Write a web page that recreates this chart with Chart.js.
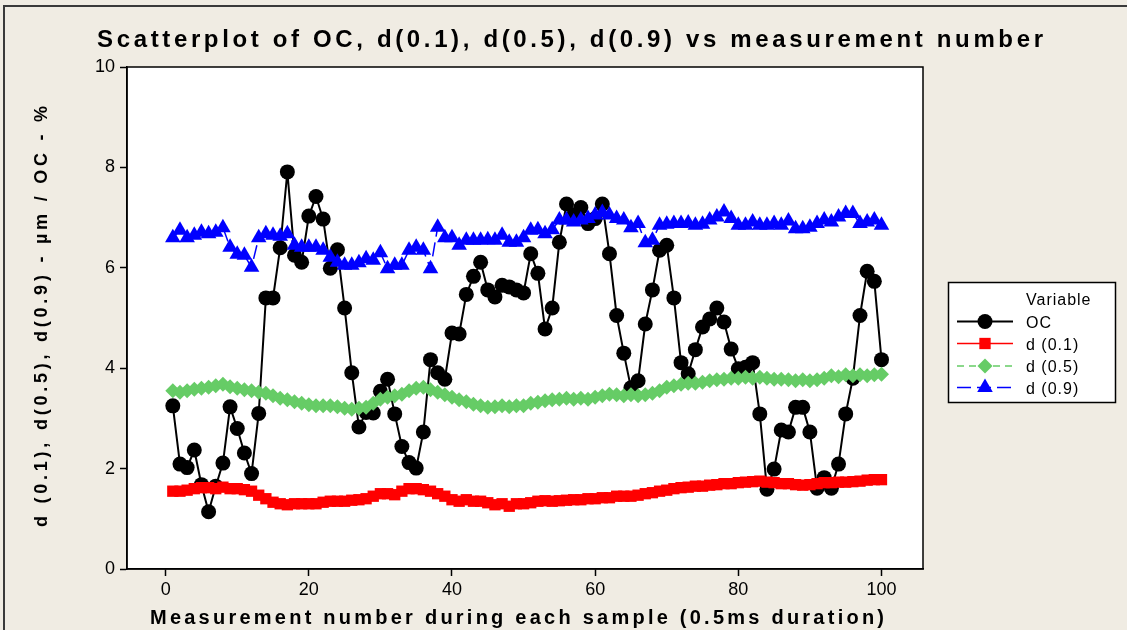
<!DOCTYPE html>
<html>
<head>
<meta charset="utf-8">
<script src="https://cdn.jsdelivr.net/npm/chart.js"></script>
<style>
  html, body { margin: 0; padding: 0; background: #F0ECE3; }
  canvas { display: block; }
</style>
</head>
<body>
<canvas id="grafica" width="1127" height="630"></canvas>
<script>
// measurement number 1..100
const medicion = Array.from({ length: 100 }, (_, i) => i + 1);

const serieOC = [
  3.25, 2.09, 2.02, 2.37, 1.68, 1.14, 1.65, 2.11, 3.23, 2.80,
  2.31, 1.90, 3.10, 5.40, 5.40, 6.40, 7.91, 6.25, 6.11, 7.03,
  7.42, 6.97, 5.99, 6.36, 5.20, 3.91, 2.83, 3.12, 3.11, 3.54,
  3.78, 3.09, 2.44, 2.12, 2.01, 2.73, 4.17, 3.91, 3.78, 4.70,
  4.68, 5.47, 5.83, 6.11, 5.56, 5.42, 5.65, 5.62, 5.56, 5.50,
  6.28, 5.89, 4.78, 5.20, 6.51, 7.27, 7.05, 7.20, 6.88, 6.98,
  7.27, 6.28, 5.05, 4.30, 3.61, 3.75, 4.88, 5.56, 6.35, 6.45,
  5.40, 4.11, 3.89, 4.37, 4.82, 4.98, 5.20, 4.92, 4.38, 3.99,
  4.02, 4.11, 3.09, 1.59, 1.99, 2.77, 2.73, 3.22, 3.22, 2.73,
  1.61, 1.82, 1.61, 2.09, 3.09, 3.80, 5.05, 5.93, 5.73, 4.17
];

const serieD01 = [
  1.55, 1.55, 1.57, 1.60, 1.62, 1.62, 1.60, 1.63, 1.60, 1.60,
  1.58, 1.55, 1.47, 1.40, 1.33, 1.30, 1.28, 1.30, 1.30, 1.30,
  1.30, 1.33, 1.35, 1.35, 1.35, 1.37, 1.38, 1.40, 1.45, 1.50,
  1.50, 1.48, 1.55, 1.60, 1.60, 1.58, 1.55, 1.50, 1.45, 1.38,
  1.35, 1.38, 1.35, 1.35, 1.32, 1.28, 1.30, 1.25, 1.30, 1.30,
  1.32, 1.35, 1.36, 1.35, 1.36, 1.37, 1.38, 1.38, 1.40, 1.40,
  1.42, 1.42, 1.45, 1.45, 1.45, 1.47, 1.50, 1.52, 1.55, 1.57,
  1.60, 1.62, 1.63, 1.65, 1.65, 1.67, 1.68, 1.70, 1.70, 1.72,
  1.73, 1.74, 1.75, 1.73, 1.72, 1.70, 1.70, 1.68, 1.67, 1.68,
  1.70, 1.72, 1.72, 1.73, 1.73, 1.74, 1.75, 1.77, 1.78, 1.78
];

const serieD05 = [
  3.55, 3.52, 3.55, 3.58, 3.60, 3.62, 3.65, 3.68, 3.63, 3.60,
  3.57, 3.55, 3.52, 3.50, 3.45, 3.40, 3.37, 3.33, 3.30, 3.27,
  3.25, 3.25, 3.25, 3.23, 3.20, 3.18, 3.20, 3.22, 3.30, 3.38,
  3.42, 3.45, 3.48, 3.55, 3.60, 3.62, 3.57, 3.52, 3.47, 3.42,
  3.37, 3.33, 3.28, 3.25, 3.22, 3.23, 3.25, 3.23, 3.25, 3.25,
  3.30, 3.32, 3.35, 3.37, 3.38, 3.40, 3.38, 3.40, 3.38, 3.42,
  3.45, 3.48, 3.47, 3.45, 3.47, 3.45, 3.47, 3.50, 3.55, 3.62,
  3.65, 3.68, 3.70, 3.70, 3.72, 3.75, 3.77, 3.78, 3.80, 3.80,
  3.82, 3.80, 3.82, 3.80, 3.78, 3.78, 3.77, 3.75, 3.77, 3.75,
  3.77, 3.80, 3.85, 3.83, 3.87, 3.85, 3.87, 3.85, 3.87, 3.88
];

const serieD09 = [
  6.60, 6.75, 6.60, 6.65, 6.71, 6.68, 6.71, 6.80, 6.41, 6.27,
  6.25, 6.01, 6.60, 6.68, 6.65, 6.63, 6.68, 6.45, 6.41, 6.41,
  6.41, 6.35, 6.21, 6.11, 6.05, 6.05, 6.10, 6.18, 6.15, 6.30,
  5.98, 6.05, 6.05, 6.35, 6.41, 6.35, 5.98, 6.81, 6.60, 6.60,
  6.45, 6.55, 6.55, 6.55, 6.56, 6.55, 6.65, 6.51, 6.51, 6.60,
  6.75, 6.76, 6.68, 6.76, 6.95, 6.95, 6.91, 6.95, 6.98, 7.05,
  7.10, 7.05, 6.98, 6.95, 6.80, 6.88, 6.50, 6.55, 6.85, 6.87,
  6.88, 6.88, 6.89, 6.85, 6.87, 6.95, 7.01, 7.11, 6.98, 6.85,
  6.85, 6.91, 6.85, 6.85, 6.88, 6.85, 6.93, 6.78, 6.78, 6.81,
  6.88, 6.95, 6.91, 7.01, 7.08, 7.08, 6.88, 6.91, 6.95, 6.85
];

const ticksX = [0, 20, 40, 60, 80, 100];
const ticksY = [0, 2, 4, 6, 8, 10];

const titulo = 'Scatterplot of OC, d(0.1), d(0.5), d(0.9) vs measurement number';
const tituloX = 'Measurement number during each sample (0.5ms duration)';
const tituloY = 'd (0.1), d(0.5), d(0.9) - \u00B5m / OC - %';
const etiquetasLeyenda = ['OC', 'd (0.1)', 'd (0.5)', 'd (0.9)'];

const FUENTE = "'Liberation Sans', Arial, sans-serif";

function puntos(valores) {
    return valores.map((v, i) => ({ x: medicion[i], y: v }));
}

// texto con espaciado de letras para ocupar un ancho dado
function textoEspaciado(ctx, texto, x, y, ancho, font) {
    ctx.font = font;
    ctx.letterSpacing = '0px';
    const w = ctx.measureText(texto).width;
    const sp = Math.max(0, (ancho - w) / (texto.length - 1));
    ctx.letterSpacing = sp + 'px';
    ctx.textAlign = 'left';
    ctx.fillText(texto, x, y);
    ctx.letterSpacing = '0px';
}

const pluginMarco = {
    id: 'marco',
    beforeDraw(chart) {
        const ctx = chart.ctx;
        const a = chart.chartArea;
        ctx.save();
        ctx.fillStyle = '#F0ECE3';
        ctx.fillRect(0, 0, chart.width, chart.height);
        ctx.fillStyle = '#fff';
        ctx.fillRect(a.left, a.top, a.right - a.left, a.bottom - a.top);
        // borde exterior
        ctx.strokeStyle = '#3a3a3a';
        ctx.lineWidth = 2;
        ctx.beginPath();
        ctx.moveTo(4, chart.height);
        ctx.lineTo(4, 6);
        ctx.lineTo(chart.width, 6);
        ctx.stroke();
        ctx.restore();
    },
    afterDraw(chart) {
        const ctx = chart.ctx;
        const a = chart.chartArea;
        ctx.save();
        ctx.strokeStyle = '#000';
        ctx.lineWidth = 1.5;
        ctx.strokeRect(a.left, a.top, a.right - a.left, a.bottom - a.top);

        ctx.fillStyle = '#000';
        ctx.textBaseline = 'alphabetic';
        textoEspaciado(ctx, titulo, 97, 47, 946, 'bold 24px ' + FUENTE);
        textoEspaciado(ctx, tituloX, 150, 624, 734, 'bold 20px ' + FUENTE);

        ctx.save();
        ctx.translate(47, 527);
        ctx.rotate(-Math.PI / 2);
        textoEspaciado(ctx, tituloY, 0, 0, 421, 'bold 18px ' + FUENTE);
        ctx.restore();

        // leyenda
        ctx.fillStyle = '#fff';
        ctx.fillRect(948.5, 282.5, 167, 120);
        ctx.strokeStyle = '#000';
        ctx.lineWidth = 1.5;
        ctx.strokeRect(948.5, 282.5, 167, 120);

        ctx.fillStyle = '#000';
        ctx.font = '16px ' + FUENTE;
        ctx.letterSpacing = '1px';
        ctx.textAlign = 'left';
        ctx.fillText('Variable', 1026, 305);

        const filas = [321.5, 343.5, 366, 387.5];
        [0, 1, 2, 3].forEach(i => {
            const ds = chart.data.datasets[i];
            const y = filas[i];
            ctx.strokeStyle = ds.borderColor;
            ctx.lineWidth = ds.borderWidth;
            ctx.setLineDash(ds.borderDash || []);
            ctx.beginPath();
            ctx.moveTo(957, y);
            ctx.lineTo(1013, y);
            ctx.stroke();
            ctx.setLineDash([]);
            ctx.fillStyle = ds.backgroundColor;
            Chart.helpers.drawPoint(ctx, {
                pointStyle: ds.pointStyle,
                radius: ds.pointRadius,
                rotation: 0,
                borderWidth: 0
            }, 985, y);
            ctx.fillStyle = '#000';
            ctx.letterSpacing = '1px';
            ctx.fillText(etiquetasLeyenda[i], 1026, y + 6);
        });
        ctx.letterSpacing = '0px';
        ctx.restore();
    }
};

document.addEventListener('DOMContentLoaded', () => {
    const ctx = document.getElementById('grafica').getContext('2d');
    new Chart(ctx, {
        type: 'scatter',
        data: {
            datasets: [
                {
                    label: 'OC',
                    data: puntos(serieOC),
                    showLine: true,
                    borderColor: '#000000',
                    backgroundColor: '#000000',
                    borderWidth: 2,
                    pointStyle: 'circle',
                    pointRadius: 7.5,
                    pointBorderWidth: 0,
                    order: 4
                },
                {
                    label: 'd(0.1)',
                    data: puntos(serieD01),
                    showLine: true,
                    borderColor: '#FF0000',
                    backgroundColor: '#FF0000',
                    borderWidth: 1.5,
                    pointStyle: 'rect',
                    pointRadius: 8,
                    pointBorderWidth: 0,
                    order: 3
                },
                {
                    label: 'd(0.5)',
                    data: puntos(serieD05),
                    showLine: true,
                    borderColor: '#66CC66',
                    backgroundColor: '#66CC66',
                    borderWidth: 1.5,
                    borderDash: [7, 5],
                    pointStyle: 'rectRot',
                    pointRadius: 7.5,
                    pointBorderWidth: 0,
                    order: 2
                },
                {
                    label: 'd(0.9)',
                    data: puntos(serieD09),
                    showLine: true,
                    borderColor: '#0000FF',
                    backgroundColor: '#0000FF',
                    borderWidth: 1.5,
                    borderDash: [14, 6],
                    pointStyle: 'triangle',
                    pointRadius: 9,
                    pointBorderWidth: 0,
                    order: 1
                }
            ]
        },
        options: {
            responsive: false,
            animation: false,
            events: [],
            layout: { padding: { left: 0, top: 67, right: 204, bottom: 0 } },
            plugins: {
                legend: { display: false },
                title: { display: false },
                tooltip: { enabled: false }
            },
            scales: {
                x: {
                    type: 'linear',
                    min: -5.4,
                    max: 105.8,
                    afterBuildTicks: s => { s.ticks = ticksX.map(v => ({ value: v })); },
                    afterFit: s => { s.height = 61; },
                    ticks: {
                        color: '#000',
                        font: { family: FUENTE, size: 18 },
                        padding: 3,
                        maxRotation: 0
                    },
                    grid: { drawOnChartArea: false, tickLength: 7, color: '#000', tickWidth: 1.5 },
                    border: { display: true, color: '#000', width: 1.5 }
                },
                y: {
                    min: 0,
                    max: 10,
                    afterBuildTicks: s => { s.ticks = ticksY.map(v => ({ value: v })); },
                    afterFit: s => { s.width = 127; },
                    ticks: {
                        color: '#000',
                        font: { family: FUENTE, size: 18 },
                        padding: 5
                    },
                    grid: { drawOnChartArea: false, tickLength: 7, color: '#000', tickWidth: 1.5 },
                    border: { display: true, color: '#000', width: 1.5 }
                }
            }
        },
        plugins: [pluginMarco]
    });
});
</script>
</body>
</html>
